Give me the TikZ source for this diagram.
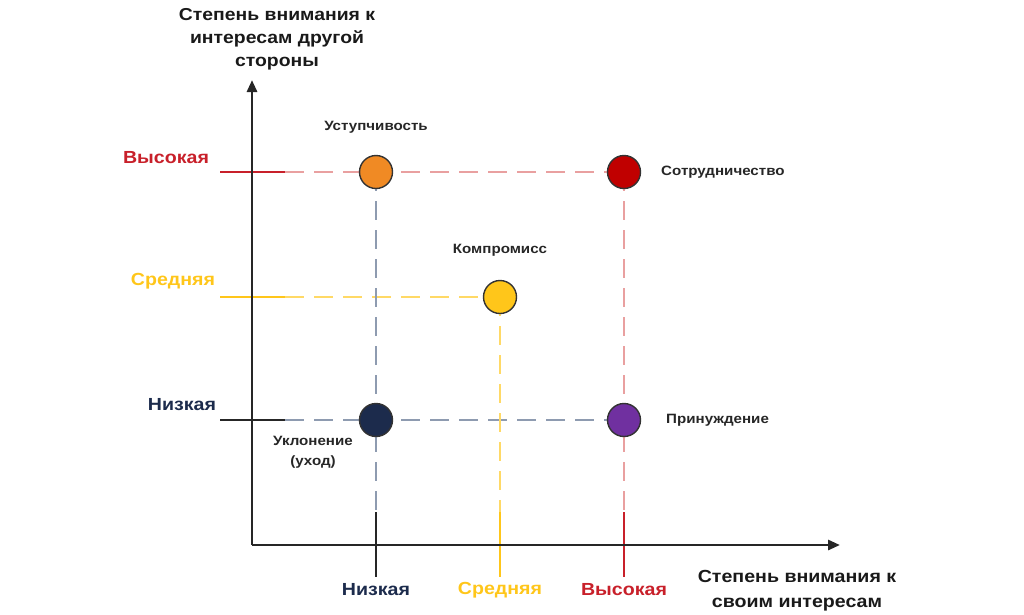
\documentclass[tikz,border=0pt]{standalone}
\usepackage{fontspec}
\setmainfont{Liberation Sans}[FakeStretch=1.12]
\usetikzlibrary{arrows.meta}
\definecolor{cred}{HTML}{C8202A}
\definecolor{cdred}{HTML}{C00000}
\definecolor{corange}{HTML}{F08A24}
\definecolor{cyellow}{HTML}{FFC61A}
\definecolor{cnavy}{HTML}{1C2B4C}
\definecolor{cpurple}{HTML}{7030A0}
\definecolor{lred}{HTML}{E9A0A0}
\definecolor{lyellow}{HTML}{FFD966}
\definecolor{lgrey}{HTML}{8E9BB0}
\tikzset{
  axis/.style={line width=2.8pt, -{Triangle[length=12pt,width=10pt]}},
  tick/.style={line width=2.8pt},
  guide/.style={line width=2.5pt, dash pattern=on 19pt off 10pt},
  dot/.style={circle, draw=black!80, line width=1.4pt, minimum size=33pt, inner sep=0pt},
  lbl/.style={font=\bfseries\fontsize{13.5}{20}\selectfont, text=black!85, inner sep=0pt},
  lvl/.style={font=\bfseries\fontsize{17.5}{21}\selectfont, inner sep=0pt},
  ttl/.style={align=center, inner sep=0pt, text=black!90}
}
\begin{document}
\begin{tikzpicture}[x=1pt,y=-1pt]
\useasboundingbox (0,0) rectangle (1024,614);
% coordinates
\coordinate (O) at (252,545);
\coordinate (Ytop) at (252,80);
\coordinate (Xend) at (840,545);
% ticks
\coordinate (th1) at (220,172); \coordinate (th2) at (285,172);
\coordinate (tm1) at (220,297); \coordinate (tm2) at (285,297);
\coordinate (tl1) at (220,420); \coordinate (tl2) at (285,420);
\coordinate (vl1) at (376,512); \coordinate (vl2) at (376,577);
\coordinate (vm1) at (500,512); \coordinate (vm2) at (500,577);
\coordinate (vh1) at (624,512); \coordinate (vh2) at (624,577);
% guides (dashed) first
\draw[guide, lred] (th2) -- (624,172);
\draw[guide, lyellow] (tm2) -- (500,297);
\draw[guide, lgrey] (tl2) -- (624,420);
\draw[guide, lgrey] (376,172) -- (vl1);
\draw[guide, lyellow] (500,297) -- (vm1);
\draw[guide, lred] (624,172) -- (vh1);
% ticks
\draw[tick, cred] (th1) -- (th2);
\draw[tick, cyellow] (tm1) -- (tm2);
\draw[tick, black!85] (tl1) -- (tl2);
\draw[tick, black!85] (vl1) -- (vl2);
\draw[tick, cyellow] (vm1) -- (vm2);
\draw[tick, cred] (vh1) -- (vh2);
% axes
\draw[axis, black!85] (O) -- (Ytop);
\draw[axis, black!85] (O) -- (Xend);
% dots
\node[dot, fill=corange] (ust) at (376,172) {};
\node[dot, fill=cdred] (sotr) at (624,172) {};
\node[dot, fill=cyellow] (komp) at (500,297) {};
\node[dot, fill=cnavy] (ukl) at (376,420) {};
\node[dot, fill=cpurple] (prin) at (624,420) {};
% labels
\node[lbl] (lust) at (376,127) {Уступчивость};
\node[lbl, anchor=west] (lsotr) at (661,172) {Сотрудничество};
\node[lbl] (lkomp) at (500,250) {Компромисс};
\node[lbl, align=center] (lukl) at (313,452) {Уклонение\\(уход)};
\node[lbl, anchor=west] (lprin) at (666,420) {Принуждение};
% level labels
\node[lvl, text=cred] (yh) at (166,158) {Высокая};
\node[lvl, text=cyellow] (ym) at (173,281) {Средняя};
\node[lvl, text=cnavy] (yl) at (182,405) {Низкая};
\node[lvl, text=cnavy] (xl) at (376,590) {Низкая};
\node[lvl, text=cyellow] (xm) at (500,590) {Средняя};
\node[lvl, text=cred] (xh) at (624,590) {Высокая};
% titles
\node[ttl, font=\bfseries\fontsize{17.3}{23}\selectfont] (ty) at (277,39) {Степень внимания к\\интересам другой\\стороны};
\node[ttl, font=\bfseries\fontsize{17.5}{25}\selectfont] (tx) at (797,591) {Степень внимания к\\своим интересам};
\end{tikzpicture}
\end{document}
